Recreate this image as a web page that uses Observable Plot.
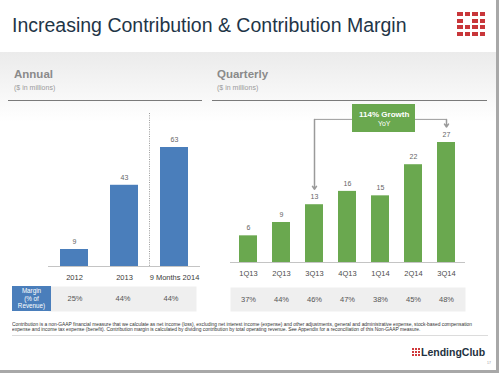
<!DOCTYPE html>
<html><head><meta charset="utf-8">
<script src="https://cdn.jsdelivr.net/npm/d3@7"></script>
<script src="https://cdn.jsdelivr.net/npm/@observablehq/plot@0.6"></script>
<style>
body{margin:0;background:#fff;font-family:"Liberation Sans",Arial,sans-serif;}
#slide{position:relative;width:499px;height:373px;overflow:hidden;background:#fff;}
.abs{position:absolute;}
#band{left:0;top:52px;width:499px;height:70px;background:linear-gradient(#ebebeb,#ffffff);}
.title{left:12px;top:16px;font-size:19.5px;line-height:1;color:#1f3547;white-space:nowrap;}
.hdr{font-size:11.5px;line-height:1;font-weight:bold;color:#8a8a8a;}
.sub{font-size:7px;line-height:1;color:#9a9a9a;}
.uline{height:1px;background:#7a7a7a;top:100px;}
.grid4{display:grid;grid-template-columns:repeat(4,5.5px);grid-auto-rows:4px;column-gap:2px;row-gap:2.6px;}
.grid4 span{background:#c8363a;}
.grid3{display:grid;grid-template-columns:repeat(3,2px);grid-auto-rows:2.3px;gap:0.8px;}
.grid3 span{background:#d0393c;}
#mlabel{left:12px;top:286px;width:39px;height:25px;background:#4a7ebb;color:#fff;font-size:6.3px;line-height:7.4px;text-align:center;display:flex;align-items:center;justify-content:center;}
.foot{left:12px;font-size:4.6px;line-height:1;color:#333;white-space:nowrap;transform-origin:0 0;}
#fline{left:12px;top:335px;width:476px;height:1px;background:#dcdcdc;}
#lc{left:421px;top:347px;font-size:10.5px;line-height:1;font-weight:bold;color:#1e3140;}
#rb{left:496px;top:0;width:3px;height:373px;background:#a8a8a8;}
#bb{left:0;top:370px;width:499px;height:3px;background:#a8a8a8;}
</style></head><body>
<div id="slide">
  <div class="abs" id="band"></div>
  <div class="abs title">Increasing Contribution &amp; Contribution Margin</div>
  <div class="abs grid4" style="left:457px;top:12px;">
    <span></span><span></span><span></span><span></span>
    <span></span><span style="background:none"></span><span></span><span></span>
    <span></span><span></span><span></span><span></span>
    <span></span><span></span><span></span><span></span>
  </div>
  <div class="abs hdr" style="left:14px;top:69px;">Annual</div>
  <div class="abs sub" style="left:14px;top:84px;">($ in millions)</div>
  <div class="abs hdr" style="left:217px;top:69px;">Quarterly</div>
  <div class="abs sub" style="left:217px;top:84px;">($ in millions)</div>
  <div class="abs uline" style="left:8px;width:194px;"></div>
  <div class="abs uline" style="left:212px;width:275px;"></div>
  <div class="abs" id="annual" style="left:0;top:100px;"></div>
  <div class="abs" id="quarterly" style="left:210px;top:100px;"></div>
  <div class="abs" id="annualMargin" style="left:0;top:286px;"></div>
  <div class="abs" id="quarterMargin" style="left:210px;top:287px;"></div>
  <div class="abs" id="mlabel"><div>Margin<br>(% of<br>Revenue)</div></div>
  <div class="abs foot" id="foot1" style="top:323.3px;">Contribution is a non-GAAP financial measure that we calculate as net income (loss), excluding net interest income (expense) and other adjustments, general and administrative expense, stock-based compensation</div>
  <div class="abs foot" id="foot2" style="top:327.5px;">expense and income tax expense (benefit). Contribution margin is calculated by dividing contribution by total operating revenue. See Appendix for a reconciliation of this Non-GAAP measure.</div>
  <div class="abs" id="fline"></div>
  <div class="abs grid3" style="left:412px;top:348px;">
    <span></span><span></span><span></span>
    <span></span><span></span><span></span>
    <span></span><span></span><span></span>
  </div>
  <div class="abs" id="lc">LendingClub</div>
  <div class="abs" style="left:487px;top:361px;font-size:3.5px;color:#999;">17</div>
  <div class="abs" id="rb"></div>
  <div class="abs" id="bb"></div>
</div>
<script>
// ---- data ----
const annualCategories = ["2012", "2013", "9 Months 2014"];
const annualContribution = [9, 43, 63];
const annualMargin = ["25%", "44%", "44%"];
const quarterCategories = ["1Q13", "2Q13", "3Q13", "4Q13", "1Q14", "2Q14", "3Q14"];
const quarterContribution = [6, 9, 13, 16, 15, 22, 27];
const quarterMargin = ["37%", "44%", "46%", "47%", "38%", "45%", "48%"];
const growthLabel = "114% Growth";
const growthSub = "YoY";
const growthFrom = "3Q13";
const growthTo = "3Q14";

const annual = annualCategories.map((c, i) => ({c, v: annualContribution[i], m: annualMargin[i]}));
const quarterly = quarterCategories.map((c, i) => ({c, v: quarterContribution[i], m: quarterMargin[i]}));

const style = {fontFamily: "Liberation Sans, Arial, sans-serif", background: "transparent", overflow: "visible"};
const annualX = {type: "band", domain: annualCategories, paddingInner: 0.44, paddingOuter: 0.24};
const quarterX = {type: "band", domain: quarterCategories, paddingInner: 0.45, paddingOuter: 0.2};

const annualPlot = Plot.plot({
  width: 210, height: 189, marginLeft: 48, marginRight: 10, marginTop: 13, marginBottom: 23,
  style, x: annualX, y: {domain: [0, 81], axis: null},
  marks: [
    Plot.ruleX([annualCategories[2]], {dx: -25, stroke: "#9a9a9a", strokeDasharray: "1,1.3"}),
    Plot.barY(annual, {x: "c", y: "v", fill: "#4a7ebb"}),
    Plot.ruleY([0], {stroke: "#c4c4c4"}),
    Plot.text(annual, {x: "c", y: "v", text: d => String(d.v), dy: -8, fill: "#666", fontSize: 7}),
    Plot.axisX({tickSize: 0, tickPadding: 8, fontSize: 7.5, fill: "#3a3a3a", label: null})
  ]
});
document.getElementById("annual").append(annualPlot);

const level = 32.2;
const link = [{from: growthFrom, to: growthTo}];
const quarterPlot = Plot.plot({
  width: 289, height: 185, marginLeft: 20, marginRight: 34, marginTop: 2, marginBottom: 23,
  style, x: quarterX, y: {domain: [0, 36], axis: null},
  marks: [
    Plot.barY(quarterly, {x: "c", y: "v", fill: "#6aa84f"}),
    Plot.ruleY([0], {stroke: "#c4c4c4"}),
    Plot.text(quarterly, {x: "c", y: "v", text: d => String(d.v), dy: -8, fill: "#666", fontSize: 7}),
    Plot.link(link, {x1: "from", x2: "to", y1: level, y2: level, stroke: "#9a9a9a"}),
    Plot.arrow(quarterly.filter(d => d.c === growthFrom || d.c === growthTo),
      {x1: "c", x2: "c", y1: level, y2: "v", insetEnd: 15.5, stroke: "#9a9a9a", headLength: 3.5, headAngle: 70}),
    Plot.barY([{c: "1Q14"}], {x: "c", y1: 29.25, y2: 35.55, fill: "#6aa84f", insetLeft: -19, insetRight: -26}),
    Plot.text([growthLabel], {x: () => "1Q14", y: 33.4, text: d => d, dx: 3.7, fill: "#fff", fontWeight: "bold", fontSize: 8}),
    Plot.text([growthSub], {x: () => "1Q14", y: 31.3, text: d => d, dx: 3.7, fill: "#fff", fontSize: 7}),
    Plot.axisX({tickSize: 0, tickPadding: 8, fontSize: 7.5, fill: "#4a4a4a", label: null})
  ]
});
document.getElementById("quarterly").append(quarterPlot);

const annualMarginPlot = Plot.plot({
  width: 210, height: 25, marginLeft: 48, marginRight: 14, marginTop: 0, marginBottom: 0,
  style, x: {...annualX, axis: null}, y: {axis: null},
  marks: [
    Plot.frame({fill: "#efefef", stroke: "none"}),
    Plot.text(annual, {x: "c", text: "m", fill: "#555", fontSize: 7.5})
  ]
});
document.getElementById("annualMargin").append(annualMarginPlot);

const quarterMarginPlot = Plot.plot({
  width: 289, height: 24, marginLeft: 20, marginRight: 34, marginTop: 0, marginBottom: 0,
  style, x: {...quarterX, axis: null}, y: {axis: null},
  marks: [
    Plot.frame({fill: "#efefef", stroke: "none"}),
    Plot.text(quarterly, {x: "c", text: "m", fill: "#555", fontSize: 7.5})
  ]
});
document.getElementById("quarterMargin").append(quarterMarginPlot);

// fit the footnote's first line to the slide's text width
const f1 = document.getElementById("foot1"), f2 = document.getElementById("foot2");
const k = 460 / f1.getBoundingClientRect().width;
f1.style.transform = `scaleX(${k})`;
f2.style.transform = `scaleX(${k})`;
</script>
</body></html>
